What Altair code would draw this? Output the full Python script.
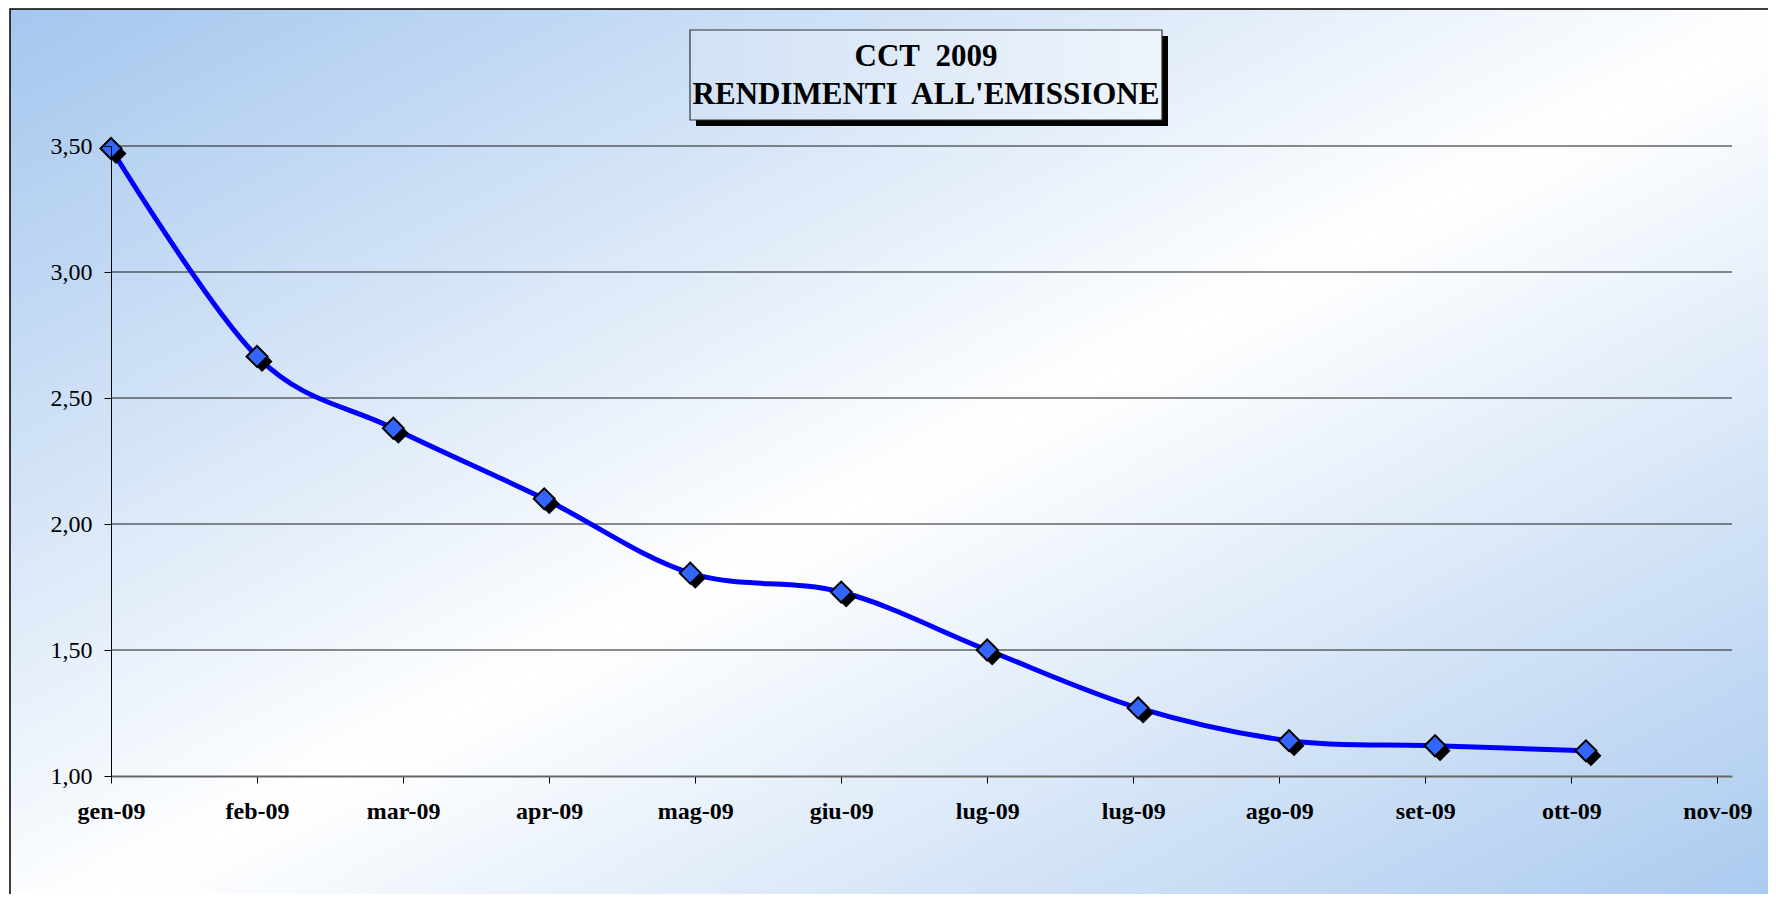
import altair as alt
import pandas as pd

# ---- data ----
dates = ["2009-01-02", "2009-02-01", "2009-03-01", "2009-04-01", "2009-05-01",
         "2009-06-01", "2009-07-01", "2009-08-01", "2009-09-01", "2009-10-01",
         "2009-11-01"]
yields = [3.49, 2.665, 2.38, 2.10, 1.805, 1.73, 1.50, 1.27, 1.14, 1.12, 1.10]

tick_dates = ["2009-01-02", "2009-02-01", "2009-03-03", "2009-04-02", "2009-05-02",
              "2009-06-01", "2009-07-01", "2009-07-31", "2009-08-30", "2009-09-29",
              "2009-10-29", "2009-11-28"]
tick_labels = ["gen-09", "feb-09", "mar-09", "apr-09", "mag-09", "giu-09",
               "lug-09", "lug-09", "ago-09", "set-09", "ott-09", "nov-09"]
x_domain = ["2009-01-02", "2009-12-01"]

y_ticks = [1.0, 1.5, 2.0, 2.5, 3.0, 3.5]
y_labels = ["1,00", "1,50", "2,00", "2,50", "3,00", "3,50"]
grid_values = [1.5, 2.0, 2.5, 3.0, 3.5]

title_lines = ["CCT\u00a0 2009", "RENDIMENTI\u00a0 ALL'EMISSIONE"]

W, H = 1621, 630


def dt(s):
    y, m, d = (int(p) for p in s.split("-"))
    return alt.DateTime(year=y, month=m, date=d, utc=True)


x_label_expr = "[{}][indexof([{}], utcFormat(datum.value, '%Y-%m-%d'))]".format(
    ",".join("'%s'" % l for l in tick_labels),
    ",".join("'%s'" % d for d in tick_dates),
)
y_label_expr = "[{}][indexof([{}], datum.value)]".format(
    ",".join("'%s'" % l for l in y_labels),
    ",".join(str(v) for v in y_ticks),
)

x_enc = alt.X(
    "date:T",
    scale=alt.Scale(type="utc", domain=[dt(d) for d in x_domain]),
    axis=alt.Axis(
        values=[dt(d) for d in tick_dates],
        labelExpr=x_label_expr,
        title=None,
        grid=False,
        domainColor="#666666",
        domainWidth=2,
        tickColor="#000000",
        tickWidth=1,
        tickSize=7,
        labelFont="Liberation Serif",
        labelFontWeight="bold",
        labelFontSize=24,
        labelColor="#000000",
        labelPadding=16,
        labelBaseline="top",
        labelFlush=False,
        labelOverlap=False,
        zindex=1,
    ),
)
y_enc = alt.Y(
    "v:Q",
    scale=alt.Scale(domain=[1.0, 3.5], nice=False, zero=False),
    axis=alt.Axis(
        values=y_ticks,
        labelExpr=y_label_expr,
        title=None,
        grid=False,
        domainColor="#000000",
        domainWidth=1,
        tickColor="#000000",
        tickWidth=1,
        tickSize=7,
        labelFont="Liberation Serif",
        labelFontSize=24,
        labelColor="#000000",
        labelPadding=12,
        labelOverlap=False,
        labelFlush=False,
        zindex=1,
    ),
)

df = pd.DataFrame({"date": dates, "v": yields})
grid_df = pd.DataFrame({"v": grid_values})
one = pd.DataFrame({"a": [0]})

bg_gradient = alt.Gradient(
    gradient="linear",
    x1=0, y1=0, x2=1, y2=1,
    stops=[
        alt.GradientStop(offset=0, color="#A4C6EE"),
        alt.GradientStop(offset=0.5, color="#FFFFFF"),
        alt.GradientStop(offset=1, color="#A4C6EE"),
    ],
)
box_gradient = alt.Gradient(
    gradient="linear",
    x1=0, y1=0, x2=1, y2=0,
    stops=[
        alt.GradientStop(offset=0, color="#D2E2F5"),
        alt.GradientStop(offset=1, color="#EEF4FB"),
    ],
)

background = alt.Chart(one).mark_rect(
    fill=bg_gradient, stroke="#000000", strokeWidth=1.5
).encode(
    x=alt.value(-101), x2=alt.value(1700),
    y=alt.value(-137), y2=alt.value(800),
)

title_shadow = alt.Chart(one).mark_rect(fill="#000000").encode(
    x=alt.value(585), x2=alt.value(1057),
    y=alt.value(-110), y2=alt.value(-20),
)
title_box = alt.Chart(one).mark_rect(
    fill=box_gradient, stroke="#333333", strokeWidth=1.2
).encode(
    x=alt.value(579), x2=alt.value(1051),
    y=alt.value(-116), y2=alt.value(-26),
)
title_text = alt.Chart(one).mark_text(
    text=title_lines,
    font="Liberation Serif",
    fontWeight="bold",
    fontSize=31,
    lineHeight=38,
    align="center",
    baseline="alphabetic",
    color="#000000",
).encode(x=alt.value(815), y=alt.value(-80))

grid = alt.Chart(grid_df).mark_rule(color="#1a1a1a", strokeWidth=1).encode(y=y_enc)

line = alt.Chart(df).mark_line(
    color="#0000FF", strokeWidth=5, interpolate="cardinal"
).encode(x=x_enc, y=y_enc)

shadow = alt.Chart(df).mark_point(
    shape="diamond", filled=True, fill="#000000", size=440,
    xOffset=5, yOffset=5, opacity=1, strokeWidth=0,
).encode(x=x_enc, y=y_enc)

points = alt.Chart(df).mark_point(
    shape="diamond", filled=True, fill="#3366FF", stroke="#000000",
    strokeWidth=2, size=440, opacity=1,
).encode(x=x_enc, y=y_enc)

chart = alt.layer(
    background, title_shadow, title_box, title_text, grid, line, shadow, points
).properties(
    width=W, height=H,
    autosize=alt.AutoSizeParams(type="none"),
    padding={"left": 103, "top": 138, "right": 36, "bottom": 118},
).configure_view(stroke=None)

chart.save("out.html", embed_options={"renderer": "svg", "actions": False})
